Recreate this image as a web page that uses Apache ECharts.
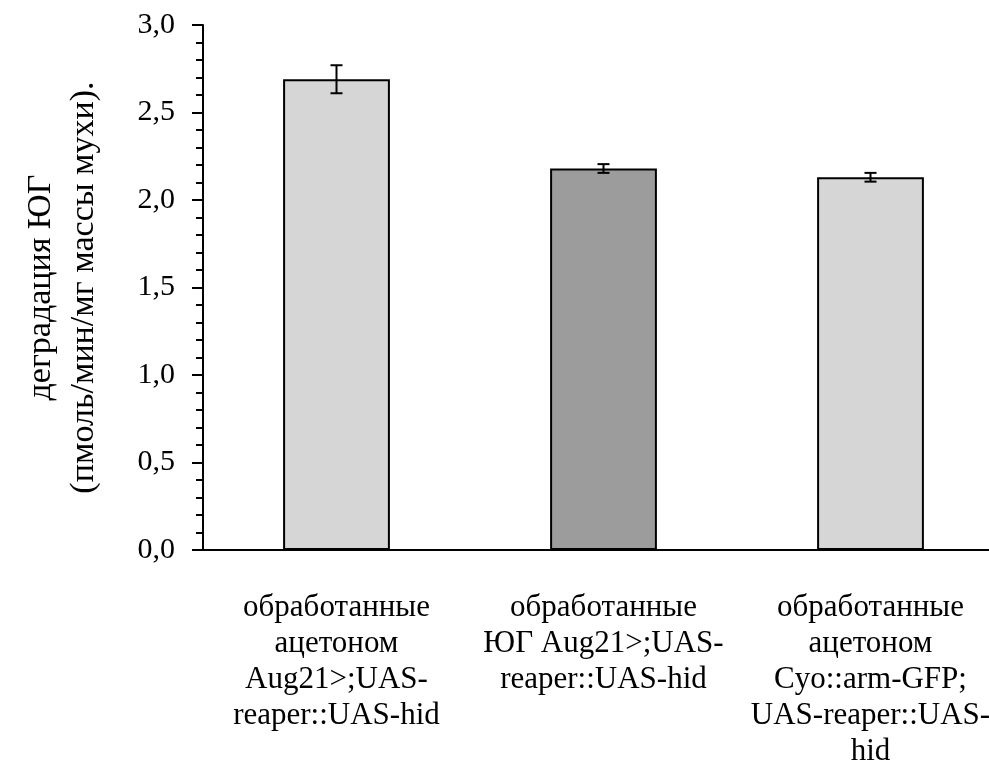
<!DOCTYPE html>
<html>
<head>
<meta charset="utf-8">
<script src="https://cdn.jsdelivr.net/npm/echarts@6/dist/echarts.min.js"></script>
<style>html,body{margin:0;padding:0;background:#fff}#c{width:989px;height:782px}</style>
</head>
<body>
<div id="c"></div>
<script>
const categories = [
  'обработанные\nацетоном\nAug21>;UAS-\nreaper::UAS-hid',
  'обработанные\nЮГ Aug21>;UAS-\nreaper::UAS-hid',
  'обработанные\nацетоном\nCyo::arm-GFP;\nUAS-reaper::UAS-\nhid'
];
const values = [2.69, 2.18, 2.13];
const errors = [0.08, 0.025, 0.025];
const barColors = ['#d6d6d6', '#9c9c9c', '#d6d6d6'];
const yTitle = 'деградация ЮГ\n(пмоль/мин/мг массы мухи).';

const FONT = '"Liberation Serif", "Times New Roman", serif';
const chart = echarts.init(document.getElementById('c'), null, {renderer: 'canvas'});
chart.setOption({
  animation: false,
  backgroundColor: '#fff',
  grid: {left: 203, top: 25, width: 801, height: 525, containLabel: false, outerBoundsMode: 'none'},
  xAxis: {
    type: 'category',
    data: categories,
    axisLine: {lineStyle: {color: '#000', width: 2}},
    axisTick: {show: false},
    axisLabel: {color: '#000', fontFamily: FONT, fontSize: 31, lineHeight: 36, margin: 40, interval: 0}
  },
  yAxis: {
    type: 'value',
    min: 0, max: 3, interval: 0.5,
    name: yTitle,
    nameLocation: 'middle',
    nameGap: 97,
    nameRotate: 90,
    nameTextStyle: {color: '#000', fontFamily: FONT, fontSize: 34, lineHeight: 43},
    axisLine: {show: true, lineStyle: {color: '#000', width: 2}},
    axisTick: {show: true, inside: false, length: 11, lineStyle: {color: '#000', width: 2}},
    minorTick: {show: true, splitNumber: 5, length: 7, lineStyle: {color: '#000', width: 2}},
    splitLine: {show: false},
    axisLabel: {color: '#000', fontFamily: FONT, fontSize: 30, margin: 28,
      formatter: v => v.toFixed(1).replace('.', ',')}
  },
  series: [
    {
      type: 'bar',
      data: values.map((v, i) => ({value: v, itemStyle: {color: barColors[i]}})),
      barWidth: '40%',
      itemStyle: {borderColor: '#000', borderWidth: 2}
    },
    {
      type: 'custom',
      data: values.map((v, i) => [i, v - errors[i], v + errors[i]]),
      renderItem: function (params, api) {
        const x = api.coord([api.value(0), 0])[0];
        const lo = api.coord([api.value(0), api.value(1)])[1];
        const hi = api.coord([api.value(0), api.value(2)])[1];
        const w = 6;
        const style = {stroke: '#000', lineWidth: 2};
        return {type: 'group', children: [
          {type: 'line', shape: {x1: x, y1: lo, x2: x, y2: hi}, style},
          {type: 'line', shape: {x1: x - w, y1: lo, x2: x + w, y2: lo}, style},
          {type: 'line', shape: {x1: x - w, y1: hi, x2: x + w, y2: hi}, style}
        ]};
      },
      z: 10
    }
  ]
});
</script>
</body>
</html>
